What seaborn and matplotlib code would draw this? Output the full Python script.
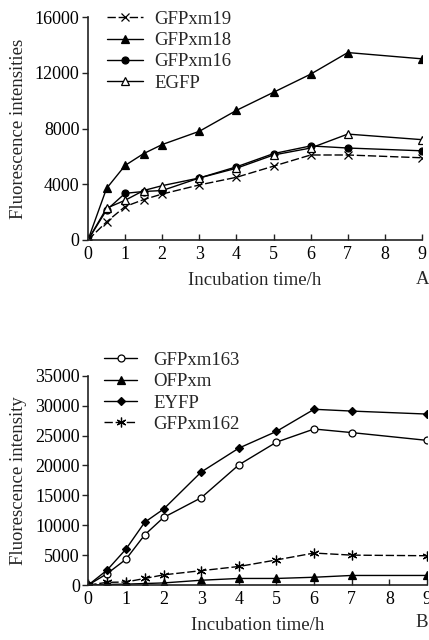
import seaborn as sns
import matplotlib.pyplot as plt
import pandas as pd

# time points (h)
hours = [0, 0.5, 1, 1.5, 2, 3, 4, 5, 6, 7, 9]

# panel A
gfpxm19 = [0, 1300, 2400, 2900, 3300, 3950, 4500, 5300, 6100, 6100, 5900]
gfpxm18 = [0, 3700, 5350, 6200, 6850, 7800, 9300, 10600, 11900, 13450, 13000]
gfpxm16 = [0, 2150, 3350, 3480, 3550, 4450, 5250, 6200, 6750, 6600, 6400]
egfp = [0, 2280, 2850, 3550, 3900, 4450, 5150, 6100, 6600, 7600, 7200]

# panel B
gfpxm163 = [0, 1900, 4300, 8400, 11300, 14600, 20100, 23900, 26100, 25500, 24200]
ofpxm = [0, 100, 150, 250, 350, 800, 1100, 1100, 1300, 1600, 1600]
eyfp = [0, 2500, 6000, 10500, 12700, 18900, 22900, 25700, 29400, 29100, 28600]
gfpxm162 = [0, 450, 500, 1100, 1700, 2400, 3100, 4200, 5350, 5000, 4900]

x_ticks = list(range(10))

sns.set_theme(style="ticks")
plt.rcParams['font.family'] = ['Liberation Serif', 'DejaVu Serif']
plt.rcParams['axes.linewidth'] = 1.2
plt.rcParams['axes.edgecolor'] = '#222222'

fig = plt.figure(figsize=(4.29, 6.40), dpi=100)
ax1 = fig.add_axes([0.2051, 0.625, 0.7786, 0.3484])
ax2 = fig.add_axes([0.2058, 0.0859, 0.7895, 0.3269])


def draw(ax, y, label, marker, face, ls, ms=5.5):
    sns.lineplot(x=hours, y=y, ax=ax, color="black", linewidth=1.0,
                 linestyle=ls, marker=marker, markersize=ms,
                 markerfacecolor=face, markeredgecolor="black",
                 markeredgewidth=0.9, label=label)


draw(ax1, gfpxm19, "GFPxm19", "x", "black", (0, (6, 2)))
draw(ax1, gfpxm18, "GFPxm18", "^", "black", "-")
draw(ax1, gfpxm16, "GFPxm16", "o", "black", "-", 5)
draw(ax1, egfp, "EGFP", "^", "white", "-")

draw(ax2, gfpxm163, "GFPxm163", "o", "white", "-", 5)
draw(ax2, ofpxm, "OFPxm", "^", "black", "-")
draw(ax2, eyfp, "EYFP", "D", "black", "-", 4.5)
draw(ax2, gfpxm162, "GFPxm162", (6, 2, 0), "black", (0, (6, 2)), 7)

for ax in (ax1, ax2):
    sns.despine(ax=ax)
    ax.set_xlim(0, 9)
    ax.set_xticks(x_ticks)
    ax.tick_params(axis="x", direction="in", length=4, width=1,
                   labelsize=13, pad=4, colors="#222222", labelcolor="black")
    ax.tick_params(axis="y", direction="out", length=4, width=1,
                   labelsize=13, pad=2, colors="#222222", labelcolor="black")
    ax.set_xlabel("Incubation time/h", fontsize=13.5, labelpad=7)
    ax.patch.set_alpha(0)

ax1.set_ylim(0, 16000)
ax1.set_yticks([0, 4000, 8000, 12000, 16000])
ax1.set_ylabel("Fluorescence intensities", fontsize=13.5, labelpad=6)

ax2.set_ylim(0, 35000)
ax2.set_yticks(range(0, 35001, 5000))
ax2.set_ylabel("Fluorescence intensity", fontsize=13.5, labelpad=6)

ax1.legend(loc="upper left", bbox_to_anchor=(0.035, 1.062), frameon=False,
           fontsize=13.5, handlelength=1.9, handletextpad=0.6,
           labelspacing=0.22, borderaxespad=0)
ax2.legend(loc="upper left", bbox_to_anchor=(0.025, 1.15), frameon=False,
           fontsize=13.5, handlelength=1.75, handletextpad=0.85,
           labelspacing=0.22, borderaxespad=0)

fig.text(0.984, 0.563, "A", fontsize=13.5, ha="center", va="center")
fig.text(0.983, 0.027, "B", fontsize=13.5, ha="center", va="center")

fig.savefig("out.png", dpi=100)
